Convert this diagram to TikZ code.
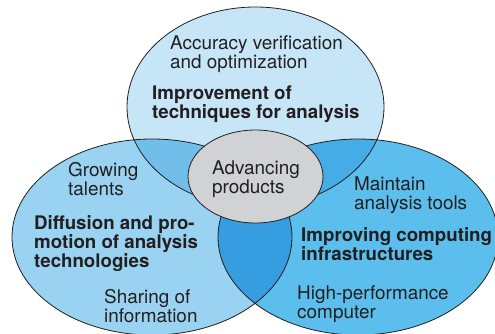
\documentclass[tikz,border=0pt]{standalone}
\usepackage{fontspec}
\setmainfont{TeX Gyre Heros}

\definecolor{topblue}{HTML}{C6E6F7}
\definecolor{leftblue}{HTML}{9AD3F1}
\definecolor{rightblue}{HTML}{5BBEEC}
\definecolor{tlblue}{HTML}{72BEEA}
\definecolor{trblue}{HTML}{45ACE5}
\definecolor{lrblue}{HTML}{359DE0}
\definecolor{prodgray}{HTML}{D1D2D4}
\definecolor{inkgray}{HTML}{231F20}

\def\TopOval{(255.5,107) ellipse (128.5pt and 100pt)}
\def\LeftOval{(152,237) ellipse (140pt and 98pt)}
\def\RightOval{(358,237) ellipse (140pt and 98pt)}

\begin{document}
\begin{tikzpicture}[x=1pt, y=-1pt,
  edge/.style={draw=inkgray, line width=0.8pt},
  lbl/.style={anchor=base west, align=left, inner sep=0pt, text=inkgray,
    font=\fontsize{18.9}{19}\selectfont},
  hd/.style={lbl, font=\fontsize{18.7}{18.6}\selectfont\bfseries}]
\useasboundingbox (0,0) rectangle (495,333);

\fill[topblue] \TopOval;
\fill[leftblue] \LeftOval;
\fill[rightblue] \RightOval;
\begin{scope}
  \clip \TopOval;
  \fill[tlblue] \LeftOval;
  \fill[trblue] \RightOval;
\end{scope}
\begin{scope}
  \clip \LeftOval;
  \fill[lrblue] \RightOval;
\end{scope}
\draw[edge] \TopOval \LeftOval \RightOval;
\filldraw[edge, fill=prodgray] (255.5,176.5) ellipse (67.5pt and 46.5pt);

\node[lbl] (acc) at (170,68) {Accuracy verification\\and optimization};
\node[hd] (impr) at (152,118.5) {Improvement of\\techniques for analysis};
\node[lbl] (adv) at (212,193) {Advancing\\products};
\node[lbl] (grow) at (68,195) {Growing\\talents};
\node[hd] (diff) at (34,267) {Diffusion and pro-\\motion of analysis\\technologies};
\node[lbl] (share) at (104,322) {Sharing of\\information};
\node[lbl] (maint) at (354,209) {Maintain\\analysis tools};
\node[hd] (infra) at (301,260) {Improving computing\\infrastructures};
\node[lbl] (hpc) at (297,318) {High-performance\\computer};
\end{tikzpicture}
\end{document}
